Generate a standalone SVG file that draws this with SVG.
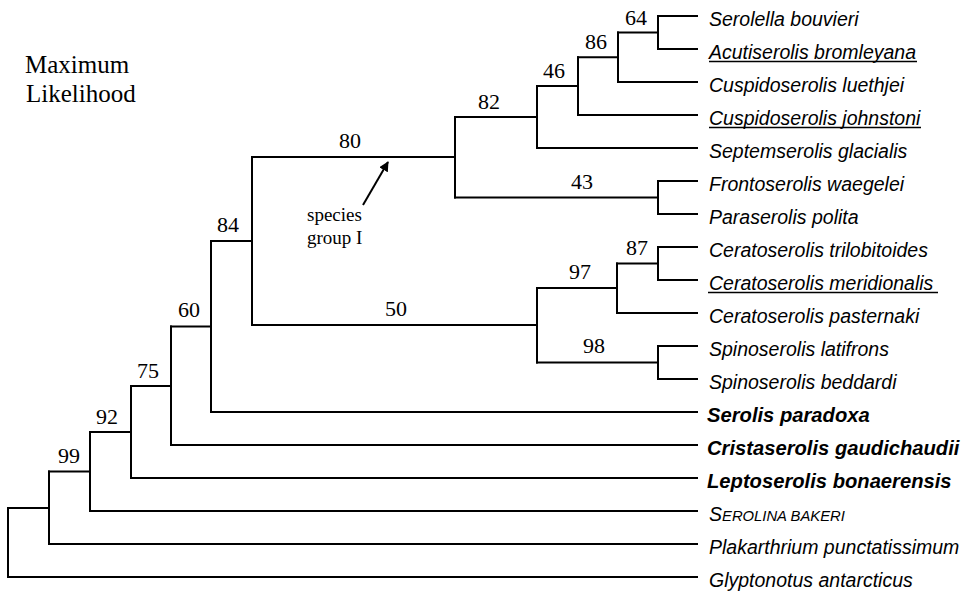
<svg xmlns="http://www.w3.org/2000/svg" width="962" height="592" viewBox="0 0 962 592">
<defs>
<style>
.br{fill:none;stroke:#000;stroke-width:2;stroke-linecap:square}
.ul{stroke:#000;stroke-width:1.4}
.sp{font-family:"Liberation Sans",Arial,sans-serif;font-style:italic;font-size:19.5px;fill:#000}
.bd{font-family:"Liberation Sans",Arial,sans-serif;font-style:italic;font-weight:bold;font-size:20.2px;fill:#000}
.num{font-family:"Liberation Serif","Times New Roman",serif;font-size:22px;fill:#000;text-anchor:middle}
.ttl{font-family:"Liberation Serif","Times New Roman",serif;font-size:25px;fill:#000}
.ann{font-family:"Liberation Serif","Times New Roman",serif;font-size:19px;fill:#000}
</style>
<marker id="ah" viewBox="0 0 10 10" refX="9" refY="5" markerWidth="10" markerHeight="10" markerUnits="userSpaceOnUse" orient="auto">
<path d="M0,0 L10,5 L0,10 z" fill="#000"/>
</marker>
</defs>
<rect width="962" height="592" fill="#fff"/>

<g id="title">
<text class="ttl" x="25" y="73">Maximum</text>
<text class="ttl" x="26" y="102">Likelihood</text>
</g>

<g id="connectors">
<path class="br" d="M658,16H697 M658,49H697 M618,82H697 M578,115H697 M537,148H697 M658,181H697 M658,214H697 M658,247H697 M658,280H697 M617,313H697 M658,346H697 M658,379H697 M211,412H697 M171,445H697 M131,478H697 M90,511H697 M49,544H697 M8,577H697"/>
<path class="br" d="M658,16V49 M658,181V214 M658,247V280 M658,346V379 M618,32.5V82 M578,57.25V115 M537,86V148 M455,117V197.5 M617,263.5V313 M537,288V362.5 M252,157V325 M211,241V412 M171,326.5V445 M131,386V478 M90,432V511 M49,471.5V544 M8,508V577"/>
<path class="br" d="M618,32.5H658 M578,57.25H618 M537,86H578 M455,117H537 M455,197.5H658 M252,157H455 M617,263.5H658 M537,288H617 M537,362.5H658 M252,325H537 M211,241H252 M171,326.5H211 M131,386H171 M90,432H131 M49,471.5H90 M8,508H49"/>
<path d="M363,205 L388,162" stroke="#000" stroke-width="2" fill="none" marker-end="url(#ah)"/>
</g>

<g id="support">
<text class="num" x="636" y="25">64</text>
<text class="num" x="596" y="49">86</text>
<text class="num" x="554" y="78">46</text>
<text class="num" x="489" y="109">82</text>
<text class="num" x="350" y="148">80</text>
<text class="num" x="582" y="189">43</text>
<text class="num" x="637" y="255">87</text>
<text class="num" x="580" y="279">97</text>
<text class="num" x="396" y="316">50</text>
<text class="num" x="594" y="353">98</text>
<text class="num" x="228" y="232">84</text>
<text class="num" x="189" y="317">60</text>
<text class="num" x="148" y="378">75</text>
<text class="num" x="107" y="424">92</text>
<text class="num" x="69" y="463">99</text>
</g>

<g id="species-group-label">
<text class="ann" x="307" y="221">species</text>
<text class="ann" x="307" y="244">group I</text>
</g>

<g id="leaf-serolella"><text class="sp" x="709" y="26">Serolella bouvieri</text></g>
<g id="leaf-acutiserolis"><text class="sp" x="709" y="59">Acutiserolis bromleyana</text><line class="ul" x1="709" y1="61.5" x2="917" y2="61.5"/></g>
<g id="leaf-luethjei"><text class="sp" x="709" y="92">Cuspidoserolis luethjei</text></g>
<g id="leaf-johnstoni"><text class="sp" x="709" y="125">Cuspidoserolis johnstoni</text><line class="ul" x1="709" y1="127.5" x2="921" y2="127.5"/></g>
<g id="leaf-septemserolis"><text class="sp" x="709" y="158">Septemserolis glacialis</text></g>
<g id="leaf-frontoserolis"><text class="sp" x="709" y="191">Frontoserolis waegelei</text></g>
<g id="leaf-paraserolis"><text class="sp" x="709" y="224">Paraserolis polita</text></g>
<g id="leaf-trilobitoides"><text class="sp" x="709" y="257">Ceratoserolis trilobitoides</text></g>
<g id="leaf-meridionalis"><text class="sp" x="709" y="290">Ceratoserolis meridionalis</text><line class="ul" x1="708" y1="292.5" x2="938" y2="292.5"/></g>
<g id="leaf-pasternaki"><text class="sp" x="709" y="323">Ceratoserolis pasternaki</text></g>
<g id="leaf-latifrons"><text class="sp" x="709" y="356">Spinoserolis latifrons</text></g>
<g id="leaf-beddardi"><text class="sp" x="709" y="389">Spinoserolis beddardi</text></g>
<g id="leaf-paradoxa"><text class="bd" x="707" y="422">Serolis paradoxa</text></g>
<g id="leaf-cristaserolis"><text class="bd" x="707" y="455">Cristaserolis gaudichaudii</text></g>
<g id="leaf-leptoserolis"><text class="bd" x="707" y="488">Leptoserolis bonaerensis</text></g>
<g id="leaf-serolina"><text class="sp" x="709" y="521">S<tspan font-size="14.8px">EROLINA BAKERI</tspan></text></g>
<g id="leaf-plakarthrium"><text class="sp" x="709" y="554">Plakarthrium punctatissimum</text></g>
<g id="leaf-glyptonotus"><text class="sp" x="709" y="587">Glyptonotus antarcticus</text></g>
</svg>
